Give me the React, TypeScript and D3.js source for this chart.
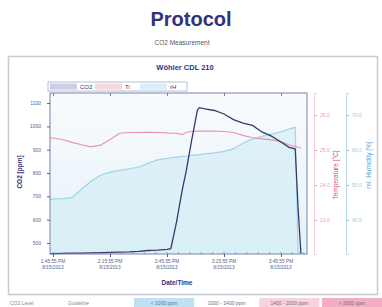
import React, { useEffect, useRef } from "react";
import * as d3 from "d3";

// minutes after 1:45:55 PM
const minutes = [-1.5, 5, 10, 15, 20, 25, 30, 35, 40, 45, 50, 55, 60, 62, 65, 68, 70, 73, 76, 77, 80, 85, 90, 95, 100, 105, 110, 115, 120, 124, 127.5, 129, 130.5];
const co2 = [455, 456, 457, 457, 458, 459, 460, 461, 462, 464, 468, 470, 473, 476, 590, 727, 804, 941, 1070, 1080, 1075, 1068, 1053, 1029, 1014, 1004, 976, 958, 933, 911, 903, 650, 455];
const temperature = [25.35, 25.3, 25.22, 25.15, 25.09, 25.14, 25.3, 25.48, 25.5, 25.5, 25.51, 25.5, 25.49, 25.48, 25.48, 25.44, 25.5, 25.53, 25.54, 25.54, 25.54, 25.54, 25.53, 25.5, 25.42, 25.35, 25.32, 25.29, 25.24, 25.15, 25.1, 25.08, 25.06];
const humidity = [46.0, 46.1, 46.4, 48.8, 51.1, 52.8, 53.7, 54.2, 54.6, 55.1, 56.2, 57.2, 57.6, 57.8, 58.0, 58.2, 58.3, 58.5, 58.6, 58.6, 58.9, 59.2, 59.6, 60.4, 62.0, 63.2, 63.9, 64.6, 65.2, 66.0, 66.5, 31, 30.5];

const timeTicks = [0, 30, 60, 90, 120];
const timeLabels = ["1:45:55 PM", "2:15:55 PM", "2:45:55 PM", "3:15:55 PM", "3:45:55 PM"];
const dateLabel = "8/15/2013";
const co2Ticks = [500, 600, 700, 800, 900, 1000, 1100];
const tempTicks = [23, 24, 25, 26];
const humTicks = [40, 50, 60, 70];
const legendNames = ["CO2", "Ti", "rH"];
const levelLabels = ["CO2 Level", "Guideline"];
const levelBands = ["< 1000 ppm", "1000 - 1400 ppm", "1400 - 2000 ppm", "> 2000 ppm"];

const FONT = "'Liberation Sans', Arial, sans-serif";
const NAVY = "#33317c";
const PINK = "#eb93a8";
const CYAN = "#9fd6e8";

export default function App() {
  const ref = useRef<SVGSVGElement>(null);

  useEffect(() => {
    const svg = d3.select(ref.current);
    svg.selectAll("*").remove();

    const left = 50, right = 307, top = 93, bottom = 254;

    const x = d3.scaleLinear().domain([-1.6, 133.7]).range([left, right]);
    const yCo2 = d3.scaleLinear().domain([453, 1143]).range([bottom, top]);
    const yTemp = d3.scaleLinear().domain([22.03, 26.63]).range([bottom, top]);
    const yHum = d3.scaleLinear().domain([30.3, 76.3]).range([bottom, top]);

    const defs = svg.append("defs");
    const grad = defs.append("linearGradient").attr("id", "bg").attr("x1", 0).attr("y1", 0).attr("x2", 0).attr("y2", 1);
    grad.append("stop").attr("offset", "0%").attr("stop-color", "#f8fbfd");
    grad.append("stop").attr("offset", "100%").attr("stop-color", "#e6f2f9");

    // titles
    svg.append("text").attr("x", 191).attr("y", 26).attr("text-anchor", "middle")
      .attr("font-family", FONT).attr("font-weight", "bold").attr("font-size", 20)
      .attr("fill", NAVY).text("Protocol");
    svg.append("text").attr("x", 182).attr("y", 45).attr("text-anchor", "middle")
      .attr("font-family", FONT).attr("font-size", 6.5).attr("fill", "#555")
      .text("CO2 Measurement");

    // outer frame
    svg.append("rect").attr("x", 8.5).attr("y", 56.5).attr("width", 369).attr("height", 238)
      .attr("fill", "#fff").attr("stroke", "#c9c9d2").attr("stroke-width", 1.5);

    svg.append("text").attr("x", 185).attr("y", 70).attr("text-anchor", "middle")
      .attr("font-family", FONT).attr("font-weight", "bold").attr("font-size", 7.5)
      .attr("fill", NAVY).text("Wöhler CDL 210");

    // legend strip
    const lg = svg.append("g").attr("transform", "translate(48,82)");
    lg.append("rect").attr("width", 139).attr("height", 9).attr("fill", "#fff").attr("stroke", "#a9aecb").attr("stroke-width", 0.8);
    const swatch = ["#c9cfe8", "#f7d6e0", "#d9eff7"];
    legendNames.forEach((n, i) => {
      const g = lg.append("g").attr("transform", `translate(${2 + i * 45},1.5)`);
      g.append("rect").attr("width", 27).attr("height", 6).attr("fill", swatch[i]);
      g.append("text").attr("x", 30).attr("y", 5.3).attr("font-family", FONT)
        .attr("font-size", 6).attr("fill", NAVY).text(n);
    });

    // plot background
    svg.append("rect").attr("x", left).attr("y", top).attr("width", right - left).attr("height", bottom - top)
      .attr("fill", "url(#bg)");

    const area = d3.area<number>().x((d, i) => x(minutes[i])).y0(bottom).y1(d => yHum(d));
    svg.append("path").datum(humidity).attr("d", area).attr("fill", "#d3ecf5").attr("opacity", 0.65);

    const lineOf = (sc: d3.ScaleLinear<number, number>) =>
      d3.line<number>().x((d, i) => x(minutes[i])).y(d => sc(d));

    svg.append("path").datum(humidity).attr("d", lineOf(yHum)).attr("fill", "none")
      .attr("stroke", CYAN).attr("stroke-width", 1.2);
    svg.append("path").datum(temperature).attr("d", lineOf(yTemp)).attr("fill", "none")
      .attr("stroke", PINK).attr("stroke-width", 1.1);
    svg.append("path").datum(co2).attr("d", lineOf(yCo2)).attr("fill", "none")
      .attr("stroke", "#363b6c").attr("stroke-width", 1.3);

    // plot frame
    svg.append("rect").attr("x", left).attr("y", top).attr("width", right - left).attr("height", bottom - top)
      .attr("fill", "none").attr("stroke", "#7b80ac").attr("stroke-width", 1);

    const styleAxis = (g: d3.Selection<SVGGElement, unknown, null, undefined>, color: string) => {
      g.selectAll("path").attr("stroke", color);
      g.selectAll("line").attr("stroke", color);
      g.selectAll("text").attr("fill", color).attr("font-family", FONT).attr("font-size", 5);
    };

    // left axis
    const ga = svg.append("g").attr("transform", `translate(${left},0)`)
      .call(d3.axisLeft(yCo2).tickValues(co2Ticks).tickSize(3).tickPadding(6).tickFormat(d3.format("d")));
    styleAxis(ga, "#5a5f8f");
    ga.select(".domain").remove();

    // bottom axis with minor ticks
    const minor = d3.range(0, 134, 6);
    svg.append("g").selectAll("line").data(minor).join("line")
      .attr("x1", d => x(d)).attr("x2", d => x(d)).attr("y1", bottom).attr("y2", bottom - 2)
      .attr("stroke", "#7b80ac").attr("stroke-width", 0.7);
    const gb = svg.append("g").attr("transform", `translate(0,${bottom})`)
      .call(d3.axisBottom(x).tickValues(timeTicks).tickSize(3).tickFormat(() => ""));
    styleAxis(gb, "#5a5f8f");
    gb.select(".domain").remove();
    const gt = svg.append("g").attr("transform", `translate(0,${top})`)
      .call(d3.axisTop(x).tickValues(timeTicks).tickSize(-3).tickFormat(() => ""));
    styleAxis(gt, "#7b80ac");
    gt.select(".domain").remove();

    const tl = svg.append("g").selectAll("text").data(timeTicks).join("text")
      .attr("x", d => x(d)).attr("y", bottom + 9).attr("text-anchor", "middle")
      .attr("font-family", FONT).attr("font-size", 4.8).attr("fill", "#5a5f8f");
    tl.append("tspan").text((d, i) => timeLabels[i]);
    tl.append("tspan").attr("x", d => x(d)).attr("dy", 6).text(dateLabel);

    svg.append("text").attr("x", 177).attr("y", 285).attr("text-anchor", "middle")
      .attr("font-family", FONT).attr("font-weight", "bold").attr("font-size", 6.5)
      .attr("fill", NAVY).text("Date/Time");

    svg.append("text").attr("transform", "translate(22,172) rotate(-90)").attr("text-anchor", "middle")
      .attr("font-family", FONT).attr("font-weight", "bold").attr("font-size", 6.5)
      .attr("fill", NAVY).text("CO2 [ppm]");

    // temperature axis
    const gTemp = svg.append("g").attr("transform", "translate(314,0)")
      .call(d3.axisRight(yTemp).tickValues(tempTicks).tickSize(3).tickPadding(3).tickFormat(d3.format(".1f")));
    styleAxis(gTemp, "#f0a0b4");
    gTemp.select(".domain").attr("stroke", "#f6d3dc");
    svg.append("text").attr("transform", "translate(338,175) rotate(-90)").attr("text-anchor", "middle")
      .attr("font-family", FONT).attr("font-size", 6.5).attr("fill", "#e2456f").text("Temperature [°C]");

    // humidity axis
    const gHum = svg.append("g").attr("transform", "translate(346,0)")
      .call(d3.axisRight(yHum).tickValues(humTicks).tickSize(3).tickPadding(3).tickFormat(d3.format(".1f")));
    styleAxis(gHum, "#9cc9de");
    gHum.select(".domain").attr("stroke", "#b9d6e6");
    svg.append("text").attr("transform", "translate(371,165) rotate(-90)").attr("text-anchor", "middle")
      .attr("font-family", FONT).attr("font-size", 6.5).attr("fill", "#5ba6d2").text("rel. Humidity [%]");

    // CO2 level bands at the bottom
    const lv = svg.append("g").attr("transform", "translate(0,298)");
    levelLabels.forEach((t, i) => {
      lv.append("text").attr("x", 10 + i * 58).attr("y", 7).attr("font-family", FONT)
        .attr("font-size", 5).attr("fill", "#888").text(t);
    });
    const bandFill = ["#bfe2f3", "#ffffff", "#f7d3df", "#f4aec4"];
    const bx = d3.scaleBand<string>().domain(levelBands).range([134, 382]).paddingInner(0.04);
    levelBands.forEach((b, i) => {
      lv.append("rect").attr("x", bx(b)!).attr("y", 0).attr("width", bx.bandwidth()).attr("height", 9)
        .attr("fill", bandFill[i]);
      lv.append("text").attr("x", bx(b)! + bx.bandwidth() / 2).attr("y", 7).attr("text-anchor", "middle")
        .attr("font-family", FONT).attr("font-size", 5).attr("fill", "#6d6d8a").text(b);
    });
  }, []);

  return (
    <svg ref={ref} width={382} height={307}
      style={{ position: "absolute", left: 0, top: 0, background: "#fff" }} />
  );
}
